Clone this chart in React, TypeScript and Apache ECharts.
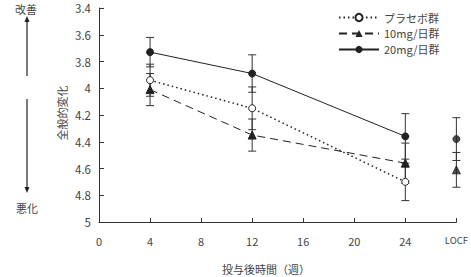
import React, { useEffect, useRef } from "react";
import * as echarts from "echarts";

// Weeks after start of dosing; LOCF is plotted at the slot after week 24
const weeks = [4, 12, 24];
const locfX = 28;
const xTicks = [0, 4, 8, 12, 16, 20, 24, 28];

// Mean global change score and standard error per group
const placeboMean = [3.94, 4.15, 4.7];
const placeboSE = [0.12, 0.16, 0.14];

const mg10Mean = [4.01, 4.35, 4.56];
const mg10SE = [0.12, 0.12, 0.15];
const mg10Locf = 4.61;
const mg10LocfSE = 0.13;

const mg20Mean = [3.73, 3.89, 4.36];
const mg20SE = [0.11, 0.14, 0.17];
const mg20Locf = 4.38;
const mg20LocfSE = 0.16;

const seriesNames = ["プラセボ群", "10mg/日群", "20mg/日群"];

const FONT = "'Noto Sans CJK JP', 'Noto Sans', sans-serif";
const INK = "#222";
const TEXT = "#444";

function errorBars(xs: number[], means: number[], ses: number[]) {
  return {
    type: "custom",
    silent: true,
    z: 1,
    encode: { x: 0, y: [1, 2] },
    data: xs.map((x, i) => [x, means[i] - ses[i], means[i] + ses[i]]),
    renderItem: (_params: any, api: any) => {
      const x = api.value(0);
      const lo = api.coord([x, api.value(1)]);
      const hi = api.coord([x, api.value(2)]);
      const w = 4;
      const style = { stroke: "#333", lineWidth: 1 };
      return {
        type: "group",
        children: [
          { type: "line", shape: { x1: lo[0], y1: lo[1], x2: hi[0], y2: hi[1] }, style },
          { type: "line", shape: { x1: lo[0] - w, y1: lo[1], x2: lo[0] + w, y2: lo[1] }, style },
          { type: "line", shape: { x1: hi[0] - w, y1: hi[1], x2: hi[0] + w, y2: hi[1] }, style },
        ],
      };
    },
  };
}

const pairs = (xs: number[], ys: number[]) => xs.map((x, i) => [x, ys[i]]);

export default function App() {
  const ref = useRef<HTMLDivElement>(null);

  useEffect(() => {
    if (!ref.current) return;
    const chart = echarts.init(ref.current, undefined, { renderer: "svg" });

    const placeboStyle = {
      symbol: "circle",
      symbolSize: 7,
      itemStyle: { color: "#fff", borderColor: INK, borderWidth: 1 },
      lineStyle: { color: INK, width: 1.5, type: [1.5, 3] },
    };
    const mg10Style = {
      symbol: "triangle",
      symbolSize: 8,
      itemStyle: { color: INK, borderColor: INK },
      lineStyle: { color: INK, width: 1, type: [8, 5] },
    };
    const mg20Style = {
      symbol: "circle",
      symbolSize: 7,
      itemStyle: { color: INK, borderColor: INK },
      lineStyle: { color: INK, width: 1, type: "solid" },
    };

    chart.setOption({
      animation: false,
      textStyle: { fontFamily: FONT },
      grid: { left: 99, right: 13, top: 8, bottom: 55, containLabel: false },
      legend: {
        data: seriesNames,
        orient: "vertical",
        left: 333,
        top: 7,
        itemWidth: 40,
        itemHeight: 9,
        itemGap: 5,
        textStyle: { fontFamily: FONT, fontSize: 11, color: TEXT },
      },
      xAxis: {
        type: "value",
        min: 0,
        max: 28,
        interval: 4,
        axisLine: { lineStyle: { color: "#333", width: 1 } },
        axisTick: { inside: true, length: 4, lineStyle: { color: "#333" } },
        splitLine: { show: false },
        axisLabel: {
          margin: 13,
          fontSize: 11,
          color: TEXT,
          formatter: (v: number) => (v === locfX ? "{l|LOCF}" : xTicks.includes(v) ? String(v) : ""),
          rich: { l: { fontSize: 9.5, color: TEXT, padding: [0, 0, 8, 0] } },
        },
      },
      yAxis: {
        type: "value",
        inverse: true,
        min: 3.4,
        max: 5,
        interval: 0.2,
        axisLine: { show: true, lineStyle: { color: "#333", width: 1 } },
        axisTick: { show: true, inside: true, length: 5, lineStyle: { color: "#333" } },
        splitLine: { show: false },
        axisLabel: {
          margin: 8,
          fontSize: 11.5,
          color: TEXT,
          formatter: (v: number) => String(Math.round(v * 10) / 10),
        },
      },
      graphic: [
        {
          type: "text",
          left: 15,
          top: 3,
          style: { text: "改善", fontSize: 11, fill: TEXT, fontFamily: FONT },
        },
        { type: "line", shape: { x1: 27, y1: 21, x2: 27, y2: 76 }, style: { stroke: INK, lineWidth: 1.2 } },
        { type: "polygon", shape: { points: [[27, 16], [24.5, 22], [29.5, 22]] }, style: { fill: INK } },
        { type: "line", shape: { x1: 27, y1: 99, x2: 27, y2: 188 }, style: { stroke: INK, lineWidth: 1.2 } },
        { type: "polygon", shape: { points: [[27, 193], [24.5, 187], [29.5, 187]] }, style: { fill: INK } },
        {
          type: "text",
          left: 16,
          top: 202,
          style: { text: "悪化", fontSize: 11, fill: TEXT, fontFamily: FONT },
        },
        {
          type: "text",
          x: 62,
          y: 113,
          rotation: Math.PI / 2,
          style: {
            text: "全般的変化",
            fontSize: 11,
            fill: TEXT,
            fontFamily: FONT,
            align: "center",
            verticalAlign: "middle",
          },
        },
        {
          type: "text",
          left: 222,
          top: 263,
          style: { text: "投与後時間（週）", fontSize: 11, fill: TEXT, fontFamily: FONT },
        },
      ],
      series: [
        errorBars(weeks, placeboMean, placeboSE),
        errorBars(weeks, mg10Mean, mg10SE),
        errorBars(weeks, mg20Mean, mg20SE),
        errorBars([locfX], [mg10Locf], [mg10LocfSE]),
        errorBars([locfX], [mg20Locf], [mg20LocfSE]),
        { name: seriesNames[0], type: "line", z: 3, data: pairs(weeks, placeboMean), ...placeboStyle },
        { name: seriesNames[1], type: "line", z: 3, data: pairs(weeks, mg10Mean), ...mg10Style },
        { name: seriesNames[2], type: "line", z: 3, data: pairs(weeks, mg20Mean), ...mg20Style },
        { type: "scatter", z: 3, data: [[locfX, mg10Locf]], ...mg10Style },
        { type: "scatter", z: 3, data: [[locfX, mg20Locf]], ...mg20Style },
      ],
    });

    return () => chart.dispose();
  }, []);

  return (
    <div
      ref={ref}
      style={{ position: "fixed", left: 0, top: 0, width: 471, height: 277, background: "#fff" }}
    />
  );
}
